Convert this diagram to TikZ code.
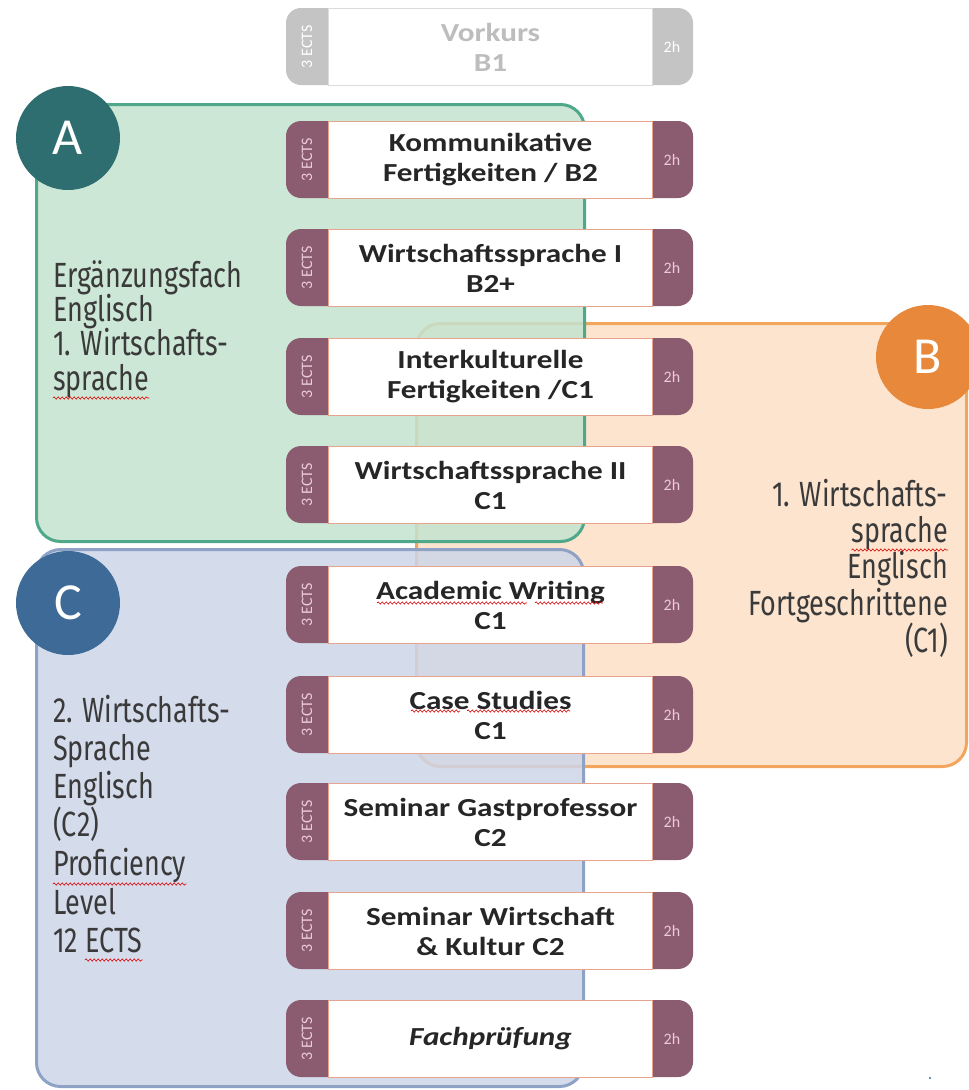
\documentclass[tikz,border=0pt]{standalone}
\usepackage{fontspec}
\setmainfont{Carlito}
\newfontfamily\modfont[FakeStretch=1.2]{Carlito}
\newfontfamily\sidefont[FakeStretch=0.77]{Fira Sans}
\usetikzlibrary{decorations.pathmorphing}
\definecolor{gfill}{HTML}{C4E3CF}
\definecolor{gline}{HTML}{4FA889}
\definecolor{gcirc}{HTML}{2F6E70}
\definecolor{ofill}{HTML}{FCE4CF}
\definecolor{oline}{HTML}{F2A55C}
\definecolor{ocirc}{HTML}{E8883B}
\definecolor{bfill}{HTML}{CDD5E8}
\definecolor{bline}{HTML}{8EA2C6}
\definecolor{bcirc}{HTML}{3E6A98}
\definecolor{tab}{HTML}{8B5B6F}
\definecolor{tabtext}{HTML}{EBCBD5}
\definecolor{salmon}{HTML}{E6A48F}
\definecolor{vgray}{HTML}{C4C4C4}
\definecolor{vtext}{HTML}{BDBDBD}
\definecolor{sidetext}{HTML}{3A3A3A}
\definecolor{modtext}{HTML}{262626}
\tikzset{
  region/.style={rounded corners=24pt, line width=3pt, anchor=north west, inner sep=0pt},
  circ/.style={circle, minimum size=104pt, inner sep=0pt, text=white, font=\fontsize{52}{52}\selectfont},
  whitebox/.style={draw=#1, line width=1pt, fill=white, minimum width=324pt, minimum height=77pt, inner sep=0pt, anchor=north west, align=center, font=\modfont\bfseries\fontsize{26}{30}\selectfont},
  ectstext/.style={rotate=90, font=\fontsize{16}{16}\selectfont},
  hourtext/.style={font=\fontsize{16}{16}\selectfont},
  sidetxt/.style={font=\sidefont\fontsize{35}{35}\selectfont, text=sidetext, inner sep=0pt},
  squiggle/.style={draw=red!85!black, line width=0.6pt, decorate, decoration={snake, amplitude=1.1pt, segment length=4pt}}
}
\newcommand\modbox[6]{% name, top, text, tabcolor, textcolor, labelcolor
  \fill[#4, rounded corners=15pt] (286,#2) rectangle (693,{#2+77});
  \node[whitebox=salmon, text=#5] (#1) at (328,#2) {#3};
  \node[ectstext, text=#6] (#1-ects) at (307,{#2+38.5}) {3 ECTS};
  \node[hourtext, text=#6] (#1-h) at (672,{#2+38.5}) {2h};
}
\begin{document}
\begin{tikzpicture}[x=1pt,y=-1pt]
\useasboundingbox (0,0) rectangle (969,1090);
\fill[white] (0,0) rectangle (969,1090);
% regions
\node[region, draw=oline, fill=ofill, minimum width=550pt, minimum height=443pt] (B) at (415,322) {};
\node[region, draw=gline, fill=gfill, fill opacity=0.85, minimum width=548pt, minimum height=437pt] (A) at (35,103) {};
\node[region, draw=bline, fill=bfill, fill opacity=0.85, minimum width=547pt, minimum height=537pt] (C) at (35,548) {};
% circles
\node[circ, fill=gcirc] (cA) at (68,138) {A};
\node[circ, fill=ocirc] (cB) at (928,357) {B};
\node[circ, fill=bcirc] (cC) at (68,603) {C};
% modules
\fill[vgray, rounded corners=15pt] (286,8) rectangle (693,85);
\node[whitebox=vgray!60, text=vtext] (m0) at (328,8) {Vorkurs\\B1};
\node[ectstext, text=white] (m0-ects) at (307,46.5) {3 ECTS};
\node[hourtext, text=white] (m0-h) at (672,46.5) {2h};
\modbox{m1}{121}{Kommunikative\\Fertigkeiten / B2}{tab}{modtext}{tabtext}
\modbox{m2}{229}{Wirtschaftssprache I\\B2+}{tab}{modtext}{tabtext}
\modbox{m3}{338}{Interkulturelle\\Fertigkeiten /C1}{tab}{modtext}{tabtext}
\modbox{m4}{446}{Wirtschaftssprache II\\C1}{tab}{modtext}{tabtext}
\modbox{m5}{566}{Academic Writing\\C1}{tab}{modtext}{tabtext}
\modbox{m6}{676}{Case Studies\\C1}{tab}{modtext}{tabtext}
\modbox{m7}{783}{Seminar Gastprofessor\\C2}{tab}{modtext}{tabtext}
\modbox{m8}{892}{Seminar Wirtschaft\\\& Kultur C2}{tab}{modtext}{tabtext}
\modbox{m9}{1000}{\itshape Fachpr\"ufung}{tab}{modtext}{tabtext}
% side texts A
\node[sidetxt, anchor=base west] (a1) at (53,287) {Ergänzungsfach};
\node[sidetxt, anchor=base west] (a2) at (53,321) {Englisch};
\node[sidetxt, anchor=base west] (a3) at (53,355) {1. Wirtschafts-};
\node[sidetxt, anchor=base west] (a4) at (53,390) {sprache};
% side texts B
\node[sidetxt, anchor=base east] (b1) at (948,506) {1. Wirtschafts-};
\node[sidetxt, anchor=base east] (b2) at (948,542) {sprache};
\node[sidetxt, anchor=base east] (b3) at (948,578) {Englisch};
\node[sidetxt, anchor=base east] (b4) at (948,615) {Fortgeschrittene};
\node[sidetxt, anchor=base east] (b5) at (948,652) {(C1)};
% side texts C
\node[sidetxt, anchor=base west] (c1) at (53,722) {2. Wirtschafts-};
\node[sidetxt, anchor=base west] (c2) at (53,760) {Sprache};
\node[sidetxt, anchor=base west] (c3) at (53,798) {Englisch};
\node[sidetxt, anchor=base west] (c4) at (53,836) {(C2)};
\node[sidetxt, anchor=base west] (c5) at (53,875) {Proficiency};
\node[sidetxt, anchor=base west] (c6) at (53,914) {Level};
\node[sidetxt, anchor=base west] (c7) at (53,952) {12 ECTS};
% spell-check squiggles
\path[squiggle] ([yshift=-8pt]a4.base west) -- ([yshift=-8pt]a4.base east);
\path[squiggle] ([yshift=-8pt]b2.base west) -- ([yshift=-8pt]b2.base east);
\path[squiggle] ([yshift=-9pt]c5.base west) -- ([yshift=-9pt]c5.base east);
\path[squiggle] ([xshift=32pt,yshift=-8pt]c7.base west) -- ([yshift=-8pt]c7.base east);
\path[squiggle] (377,603) -- (527,603);
\path[squiggle] (535,603) -- (603,603);
\path[squiggle] (411,711) -- (460,711);
\path[squiggle] (467,711) -- (570,711);
% stray dot
\fill[bcirc] (930,1078) circle (1.2pt);
\end{tikzpicture}
\end{document}
